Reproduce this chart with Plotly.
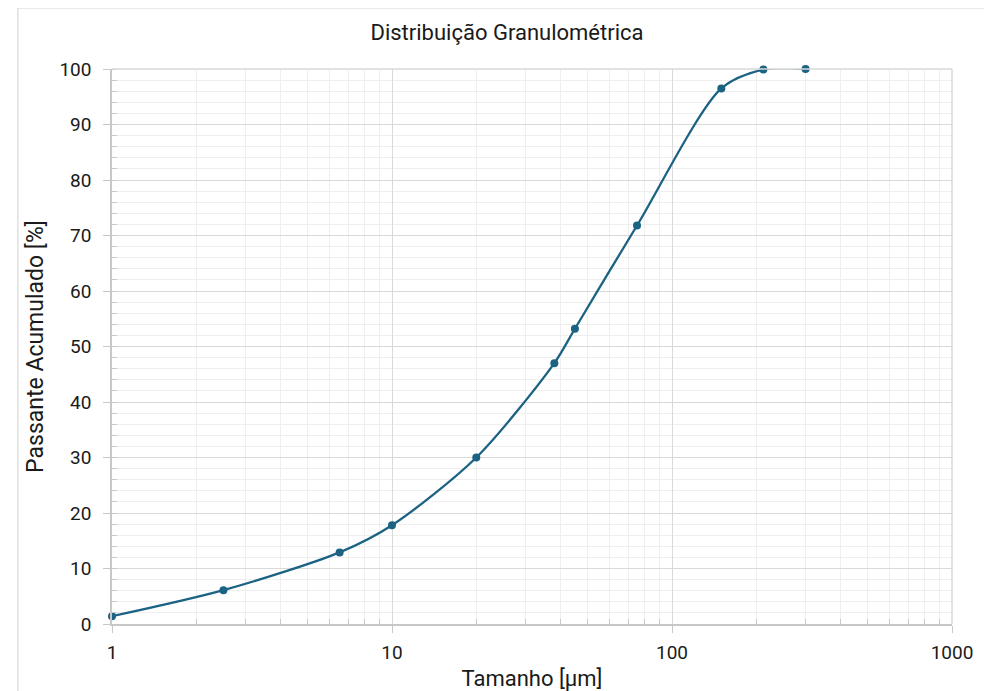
import plotly.graph_objects as go

tamanho = [1, 2.5, 6.5, 10, 20, 38, 45, 75, 150, 212, 300]
passante = [1.4, 6.1, 12.9, 17.8, 30.0, 47.0, 53.2, 71.8, 96.5, 99.9, 100.0]

color = "#1B6283"
fig = go.Figure()
fig.add_trace(go.Scatter(
    x=tamanho, y=passante, mode="lines+markers",
    line=dict(color=color, width=2.3, shape="spline", smoothing=0.8),
    marker=dict(color=color, size=8),
    cliponaxis=False,
    showlegend=False,
))

font_family = "Roboto, 'Open Sans', sans-serif"
txt = "#1a1a1a"
fig.update_layout(
    width=992, height=691,
    margin=dict(l=104, r=48, t=61, b=75),
    paper_bgcolor="white", plot_bgcolor="white",
    font=dict(family=font_family, color=txt),
    title=dict(text="Distribuição Granulométrica", x=0.503, xanchor="center",
               y=0.965, yanchor="middle", font=dict(size=22, color=txt)),
)
fig.update_xaxes(
    type="log", range=[0, 3],
    tickvals=[1, 10, 100, 1000], ticktext=["1", "10", "100", "1000"],
    ticks="outside", ticklen=7, tickcolor="#c8c8c8",
    showline=True, linecolor="#c8c8c8", linewidth=1.5,
    showgrid=True, gridcolor="#d9d9d9", gridwidth=1,
    minor=dict(tickvals=[m * d for d in [1, 10, 100] for m in range(2, 10)],
               ticks="inside", ticklen=5, tickcolor="#c8c8c8",
               showgrid=True, gridcolor="#efefef", gridwidth=1),
    tickfont=dict(size=19, color=txt),
    ticklabelstandoff=3,
    title=dict(text="Tamanho [µm]", font=dict(size=22, color=txt), standoff=8),
    mirror=False, zeroline=False,
)
fig.update_yaxes(
    range=[0, 100], dtick=10,
    ticks="outside", ticklen=7, tickcolor="#c8c8c8",
    showline=True, linecolor="#c8c8c8", linewidth=1.5,
    showgrid=True, gridcolor="#d9d9d9", gridwidth=1,
    minor=dict(dtick=2, ticks="inside", ticklen=5, tickcolor="#c8c8c8",
               showgrid=True, gridcolor="#efefef", gridwidth=1),
    tickfont=dict(size=19, color=txt),
    ticklabelstandoff=8,
    title=dict(text="Passante Acumulado [%]", font=dict(size=23, color=txt), standoff=9),
    zeroline=False,
)
fig.add_shape(type="line", xref="paper", yref="paper", x0=1, x1=1, y0=0, y1=1,
              line=dict(color="#d9d9d9", width=1.5))
fig.add_shape(type="line", xref="paper", yref="paper", x0=0, x1=1, y0=1, y1=1,
              line=dict(color="#d9d9d9", width=1.5))
fig.add_shape(type="rect", xref="paper", yref="paper",
              x0=-0.112, x1=1.2, y0=-0.2, y1=1.11,
              line=dict(color="#d0d0d0", width=1))

fig.write_html("out.html")
